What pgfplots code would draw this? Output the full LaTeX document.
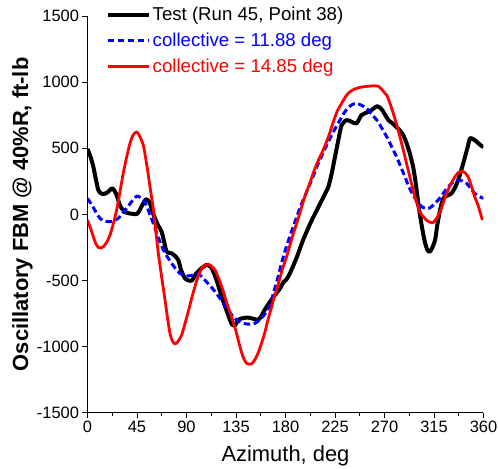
\documentclass[border=0pt]{standalone}
\usepackage{fontspec}
\setmainfont{Liberation Sans}
\usepackage{pgfplots}
\pgfplotsset{compat=1.18}
\begin{document}
\begin{tikzpicture}
\useasboundingbox (-87.5bp,-56.3bp) rectangle (410.5bp,412.7bp);
\begin{axis}[
 at={(0,0)}, anchor=south west,
 scale only axis, width=396bp, height=396.7bp,
 xmin=0, xmax=360, ymin=-1500, ymax=1500,
 axis x line*=bottom, axis y line*=left,
 axis line style={line width=0.9bp, black},
 xtick={0,45,...,360}, ytick={-1500,-1000,...,1500},
 yticklabels={-1500,-1000,-500,0,500,1000,1500},
 xticklabels={0,45,90,135,180,225,270,315,360},
 minor x tick num=1,
 tick align=outside,
 major tick length=5bp, minor tick length=3bp,
 every tick/.style={black, line width=0.9bp},
 tick label style={font=\fontsize{16.5}{19}\selectfont},
 xlabel={Azimuth, deg},
 ylabel={\bfseries Oscillatory FBM @ 40\%R, ft-lb},
 label style={font=\fontsize{22}{26}\selectfont},
 xlabel style={at={(axis description cs:0.5,-0.1235)}, anchor=base},
 ylabel style={at={(axis description cs:-0.1500,0.5)}, anchor=base},
 legend style={draw=none, fill=none, at={(axis description cs:0.045,1.027)}, anchor=north west,
   inner sep=0pt, row sep=7.5bp, font=\fontsize{18.7}{22}\selectfont,
   nodes={inner sep=1.5bp, text depth=0.2em}},
 legend cell align=left,
 legend image code/.code={\draw[#1] (0bp,0bp) -- (41.7bp,0bp);},
 line join=round,
]
\addplot[black, line width=4bp, smooth, tension=0.4] coordinates {
(0,495) (3,430) (5.3,360) (8,250) (9.8,184) (12,160) (14.4,153) (18,165) (22,196) (24,185)
(26.5,146) (29,80) (31,45) (35.6,12) (40,5) (44.7,2) (47,25) (49,58) (53,113) (55,105)
(56.8,83) (59,20) (61.4,-30) (64,-80) (67.4,-131) (70,-220) (72,-283) (76.5,-295) (79,-310)
(82.5,-345) (85,-420) (88.6,-484) (92,-500) (95,-500) (99,-446) (104,-405) (108,-383)
(110,-385) (113,-408) (117,-490) (122,-623) (127,-740) (131,-829) (134,-840) (137,-799)
(141,-785) (146,-781) (151,-790) (155,-799) (158,-770) (161,-723) (166,-660) (170,-615)
(175,-560) (178,-515) (181,-490) (184,-446) (190,-330) (196,-194) (203,-60) (210,57)
(215,140) (219,209) (222,310) (225,435) (228,560) (231,675) (235.6,713) (240,700)
(244.7,688) (249,750) (254,770) (258,788) (263.5,818) (267.5,794) (270,760) (273.5,713)
(277,690) (281,658) (284,635) (287,600) (290,540) (293,461) (296,360) (298,259) (300,130)
(302,8) (305,-140) (307,-219) (309,-270) (311,-283) (313,-260) (316,-194) (318,-80)
(320.5,33) (323,110) (325,133) (328,145) (331,159) (334,200) (337,259) (340,340)
(341.6,386) (345,490) (347.7,575) (350,570) (352,562) (355,540) (358.4,516) (360,510)
};
\addlegendentry{Test (Run 45, Point 38)}
\addplot[blue, line width=3bp, dash pattern=on 6.5bp off 3.5bp, smooth, tension=0.4] coordinates {
(0,121) (5.3,53) (8,10) (11.4,-30) (15,-50) (20.5,-56) (24,-48) (28,-30) (32,10) (35.6,45)
(40,95) (44.7,138) (47.5,130) (50.7,108) (54,60) (56.8,-5) (60,-70) (63,-144) (66,-210)
(69,-270) (72.5,-320) (76.5,-370) (80,-410) (84,-446) (88,-462) (91.6,-466) (95,-460)
(98,-450) (102,-459) (105,-480) (108,-509) (112,-545) (116,-585) (120,-630) (123.5,-673)
(128,-725) (132.5,-774) (137,-805) (141.6,-824) (146,-830) (150.7,-829) (154,-815)
(158,-786) (162,-745) (166,-686) (169,-597) (173,-480) (178,-320) (182,-215) (187,-94)
(191,0) (196,108) (200,185) (205,284) (209,370) (214,461) (219,550) (223.5,624) (229,705)
(234,776) (238.6,818) (241,832) (244.7,839) (249,825) (253.8,801) (258,760) (263,713)
(267,660) (272,587) (276,520) (281,435) (285,355) (288.6,284) (292,210) (296,146) (300,95)
(304,57) (307,47) (310,45) (313,60) (316,83) (320,120) (323.5,159) (327,200) (331,234)
(334,250) (337,259) (341,252) (344.7,234) (348,200) (352,159) (356,135) (360,121)
};
\addlegendentry{\textcolor{blue}{collective = 11.88 deg}}
\addplot[red, line width=2.8bp, smooth, tension=0.4] coordinates {
(0,-43) (2.5,-100) (5.3,-169) (7.5,-220) (9.8,-250) (12,-255) (14.4,-245) (17.5,-210)
(20.5,-156) (23.5,-70) (26.5,33) (29.5,170) (32.5,310) (35.5,430) (38.6,537) (41.5,600)
(44.7,624) (47.5,590) (50.7,524) (53,420) (55.3,297) (57.5,170) (60,33) (62,-120)
(64.4,-295) (67.5,-480) (70.5,-648) (73,-800) (75,-900) (77,-955) (79.5,-980) (82,-965)
(85.6,-912) (88.5,-830) (91.6,-736) (95,-625) (99,-509) (102,-440) (105,-396) (110,-378)
(113,-395) (116,-421) (120,-500) (123.5,-585) (127,-680) (131,-774) (135,-885)
(138.6,-1001) (141.5,-1080) (144.7,-1127) (149,-1132) (152,-1100) (155,-1051) (158,-980)
(161,-900) (164,-800) (167,-711) (169,-647) (173,-540) (177,-420) (181,-320) (187,-150)
(193,8) (197,120) (202,234) (206,330) (210,410) (215,500) (219,587) (223.5,700) (227,780)
(231,839) (235,895) (238.6,927) (243,948) (247.7,960) (252,966) (256.8,970) (261,972)
(264,970) (267,950) (270,920) (272,902) (275,840) (278,763) (281,680) (284,587) (287,490)
(290,386) (293,285) (296,184) (299,95) (302,20) (305,-15) (308,-43) (311,-58) (314,-63)
(317,-35) (320.5,20) (323.5,90) (326.5,159) (330,225) (334,284) (337,315) (340,327)
(343,315) (346,284) (349,215) (352,133) (355,70) (359,-43)
};
\addlegendentry{\textcolor{red}{collective = 14.85 deg}}
\end{axis}
\end{tikzpicture}
\end{document}
